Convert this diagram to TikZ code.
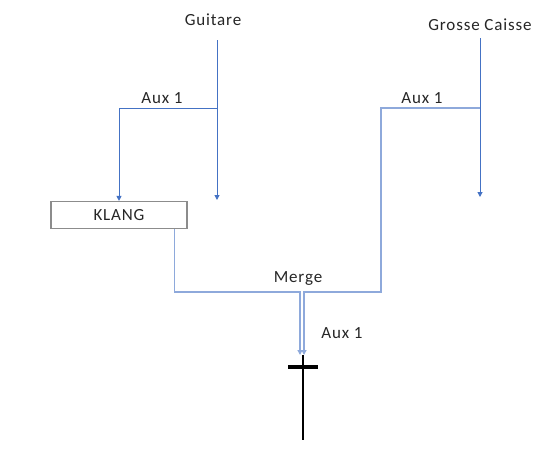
\documentclass[tikz,border=0pt]{standalone}
\usepackage{fontspec}
\setmainfont[LetterSpace=5]{Carlito}
\usetikzlibrary{arrows.meta}
\definecolor{wordblue}{HTML}{4472C4}
\definecolor{paleblue}{HTML}{8EA9DB}
\definecolor{boxgray}{HTML}{8C8C8C}
\begin{document}
\begin{tikzpicture}[x=1pt, y=-1pt, font=\fontsize{17}{20}\selectfont,
			lbl/.style={text=black!85, inner sep=1pt},
			wire/.style={wordblue, line width=1pt, -{Triangle[width=5pt,length=5pt]}},
			feed/.style={paleblue, line width=1.2pt, -{Triangle[width=5pt,length=5pt]}},
			fxbox/.style={draw=boxgray, line width=1.2pt, minimum width=136pt, minimum height=27pt, inner sep=0pt}]
			\useasboundingbox (0,0) rectangle (547,456);
			% sources
			\node[lbl] (guit) at (213,20) {Guitare};
			\node[lbl] (gc)   at (480,25) {Grosse Caisse};
			\node[fxbox, lbl] (klang) at (119,215) {KLANG};
			% guitare : direct + envoi aux
			\coordinate (g0) at (217,40);
			\coordinate (g1) at (217,200);
			\coordinate (gtap) at (217,108);
			\draw[wire] (g0) -- (g1);
			\draw[wire] (gtap) -| (klang.north);
			\node[lbl] (auxg) at (162,98) {Aux 1};
			% grosse caisse : direct + envoi aux
			\coordinate (c0) at (480,38);
			\coordinate (c1) at (480,197);
			\coordinate (ctap) at (480,108);
			\draw[wire] (c0) -- (c1);
			\node[lbl] (auxc) at (422,98) {Aux 1};
			% retour vers le bus
			\coordinate (bus) at (303,355);
			\draw[feed] ([xshift=-13pt]klang.south east) |- (300,292) -- ([xshift=-3pt]bus);
			\draw[feed] (ctap) -| (381,292) -- (304,292) -- ([xshift=1pt]bus);
			\node[lbl] (merge) at (298,279) {Merge};
			\node[lbl] (auxm) at (342,333) {Aux 1};
			% sortie
			\draw[line width=4pt] (288,367) -- (318,367);
			\draw[line width=2pt] (bus) -- (303,440);
		\end{tikzpicture}
\end{document}
